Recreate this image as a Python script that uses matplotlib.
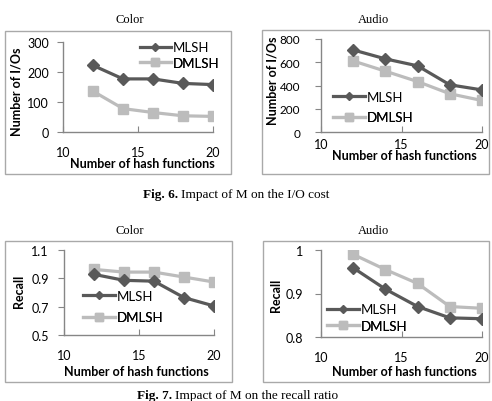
import matplotlib
matplotlib.use("Agg")
import matplotlib.pyplot as plt
from matplotlib.lines import Line2D
from matplotlib.patches import Rectangle

# ---------------- data ----------------
m_values = [12, 14, 16, 18, 20]

color_io_mlsh = [222, 177, 177, 162, 158]
color_io_dmlsh = [136, 78, 65, 54, 52]
audio_io_mlsh = [706, 629, 569, 406, 362]
audio_io_dmlsh = [611, 523, 434, 329, 271]

color_recall_mlsh = [0.928, 0.886, 0.880, 0.764, 0.705]
color_recall_dmlsh = [0.963, 0.944, 0.944, 0.909, 0.874]
audio_recall_mlsh = [0.959, 0.910, 0.870, 0.844, 0.842]
audio_recall_dmlsh = [0.990, 0.955, 0.923, 0.870, 0.866]

series_names = ["MLSH", "DMLSH"]
x_ticks = [10, 15, 20]
io_color_ticks = [0, 100, 200, 300]
io_audio_ticks = [0, 200, 400, 600, 800]
rec_color_ticks = [0.5, 0.7, 0.9, 1.1]
rec_audio_ticks = [0.8, 0.9, 1.0]
rec_audio_ticklabels = ["0.8", "0.9", "1"]

titles = ["Color", "Audio", "Color", "Audio"]
xlabel = "Number of hash functions"
ylabel_io = "Number of I/Os"
ylabel_rec = "Recall"
cap6_bold, cap6_rest = "Fig. 6.", "Impact of M on the I/O cost"
cap7_bold, cap7_rest = "Fig. 7.", "Impact of M on the recall ratio"

# ---------------- style ----------------
W, H = 492, 402
DARK = "#595959"
LIGHT = "#bcbcbc"
SPINE = "#868686"
SANS = ["Lato", "DejaVu Sans"]
SERIF = ["Liberation Serif", "DejaVu Serif"]

fig = plt.figure(figsize=(W / 100, H / 100), dpi=100)
fig.patch.set_facecolor("white")


def px_rect(l, t, r, b):
    return [l / W, 1 - b / H, (r - l) / W, (b - t) / H]


def box(l, t, r, b):
    fig.add_artist(Rectangle((l / W, 1 - b / H), (r - l) / W, (b - t) / H,
                             transform=fig.transFigure, fill=False,
                             edgecolor="#a9a9a9", lw=1.0))


panels = [
    dict(rect=px_rect(63, 43, 213, 133), box=(5, 32, 231, 175), title=(130, 20),
         ys=(color_io_mlsh, color_io_dmlsh), ylim=(0, 300), yt=io_color_ticks, ytl=None,
         ylab=ylabel_io, ylc=(-0.307, 0.456), xlc=(0.527, -0.34),
         xpad=10, ypad=6, ysize=9, leg=(0.51, [0.94, 0.77])),
    dict(rect=px_rect(321, 40, 482, 133), box=(262, 31, 489, 175), title=(374, 20),
         ys=(audio_io_mlsh, audio_io_dmlsh), ylim=(0, 800), yt=io_audio_ticks, ytl=None,
         ylab=ylabel_io, ylc=(-0.30, 0.56), xlc=(0.52, -0.25),
         xpad=4, ypad=11, ysize=8.5, leg=(0.075, [0.38, 0.16])),
    dict(rect=px_rect(64, 251, 214, 336), box=(5, 242, 232, 383), title=(130, 231),
         ys=(color_recall_mlsh, color_recall_dmlsh), ylim=(0.5, 1.1), yt=rec_color_ticks, ytl=None,
         ylab=ylabel_rec, ylc=(-0.30, 0.53), xlc=(0.48, -0.42),
         xpad=10, ypad=7, ysize=9, leg=(0.127, [0.46, 0.21])),
    dict(rect=px_rect(321, 251, 482, 338), box=(263, 242, 489, 383), title=(374, 231),
         ys=(audio_recall_mlsh, audio_recall_dmlsh), ylim=(0.8, 1.0), yt=rec_audio_ticks,
         ytl=rec_audio_ticklabels,
         ylab=ylabel_rec, ylc=(-0.28, 0.49), xlc=(0.52, -0.39),
         xpad=10, ypad=9, ysize=9, leg=(0.04, [0.32, 0.13])),
]

for i, p in enumerate(panels):
    box(*p["box"])
    fig.text(p["title"][0] / W, 1 - p["title"][1] / H, titles[i], ha="center", va="center",
             fontsize=9, family=SERIF)
    ax = fig.add_axes(p["rect"])
    ax.set_facecolor("none")
    ax.plot(m_values, p["ys"][0], color=DARK, lw=2.3, marker="D", markersize=6,
            markerfacecolor=DARK, markeredgecolor=DARK, zorder=3)
    ax.plot(m_values, p["ys"][1], color=LIGHT, lw=2.3, marker="s", markersize=7.5,
            markerfacecolor=LIGHT, markeredgecolor=LIGHT, zorder=2)
    ax.set_xlim(10, 20)
    ax.set_ylim(*p["ylim"])
    ax.set_xticks(x_ticks)
    ax.set_yticks(p["yt"])
    if p["ytl"] is not None:
        ax.set_yticklabels(p["ytl"])
    for s in ["top", "right"]:
        ax.spines[s].set_visible(False)
    for s in ["left", "bottom"]:
        ax.spines[s].set_color(SPINE)
        ax.spines[s].set_linewidth(1.0)
    ax.tick_params(axis="x", direction="in", length=4, color=SPINE, pad=p["xpad"],
                   labelsize=9)
    ax.tick_params(axis="y", direction="out", length=4, color=SPINE, pad=p["ypad"],
                   labelsize=p["ysize"])
    for lab in ax.get_xticklabels() + ax.get_yticklabels():
        lab.set_family(SANS)
    ax.set_xlabel(xlabel, fontsize=9, fontweight="bold", family=SANS)
    ax.xaxis.set_label_coords(*p["xlc"])
    ax.xaxis.label.set_va("center")
    ax.set_ylabel(p["ylab"], fontsize=9, fontweight="bold", family=SANS)
    ax.yaxis.set_label_coords(*p["ylc"])
    ax.yaxis.label.set_va("center")

    handles = [
        Line2D([], [], color=DARK, lw=2.3, marker="D", markersize=4.5),
        Line2D([], [], color=LIGHT, lw=2.3, marker="s", markersize=6),
    ]
    lx, lys = p["leg"]
    for h, name, ly in zip(handles, series_names, lys):
        lg = ax.legend([h], [name], loc="center left", bbox_to_anchor=(lx, ly),
                       frameon=False, borderpad=0, borderaxespad=0, handlelength=2.4,
                       handletextpad=0.15, prop={"family": SANS, "size": 9.5})
        ax.add_artist(lg)

# captions
fig.text(143 / W, 1 - 195 / H, cap6_bold, ha="left", va="center", fontsize=9.5,
         fontweight="bold", family=SERIF)
fig.text(181 / W, 1 - 195 / H, cap6_rest, ha="left", va="center", fontsize=9.5, family=SERIF)
fig.text(137 / W, 1 - 396 / H, cap7_bold, ha="left", va="center", fontsize=9.5,
         fontweight="bold", family=SERIF)
fig.text(175 / W, 1 - 396 / H, cap7_rest, ha="left", va="center", fontsize=9.5, family=SERIF)

fig.savefig("out.png", dpi=100, facecolor="white")
